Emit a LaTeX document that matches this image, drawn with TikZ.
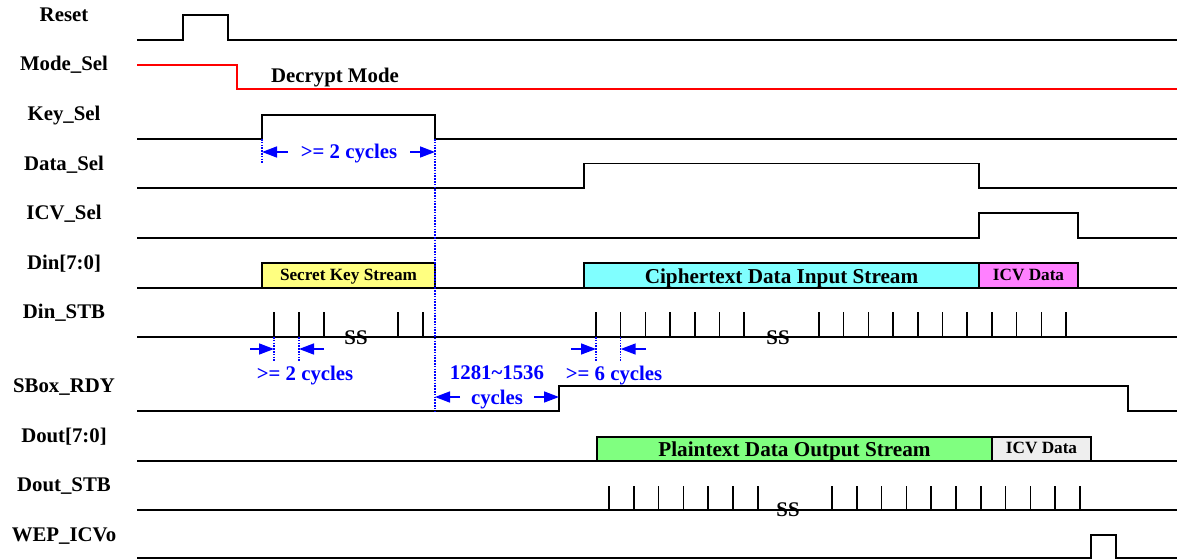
\documentclass[tikz,border=0pt]{standalone}
\usepackage{fontspec}
\setmainfont{Liberation Serif}
\usetikzlibrary{arrows.meta}
\definecolor{keyfill}{RGB}{255,255,128}
\definecolor{cipherfill}{RGB}{128,255,255}
\definecolor{icvfill}{RGB}{255,128,255}
\definecolor{plainfill}{RGB}{128,255,128}
\definecolor{icvofill}{RGB}{238,238,238}
\begin{document}
\begin{tikzpicture}[x=1pt,y=-1pt,
  lab/.style={font=\fontsize{20.8}{24}\selectfont\bfseries, inner sep=0pt, anchor=base},
  biglab/.style={font=\fontsize{21.2}{24}\selectfont\bfseries, inner sep=0pt, anchor=base},
  smalllab/.style={font=\fontsize{17.2}{20}\selectfont\bfseries, inner sep=0pt, anchor=base},
  note/.style={lab, text=blue},
  sig/.style={line width=1.6pt, line join=miter, line cap=rect},
  busbox/.style={line width=2pt, draw=black},
  tick/.style={line width=1.5pt},
  dimarrow/.style={blue, line width=1.5pt, -{Triangle[length=15pt,width=11pt]}},
  guide/.style={blue, line width=1.4pt, dash pattern=on 1.6pt off 1.2pt},
]
\useasboundingbox (0,0) rectangle (1177,559);

% ---- labels ----
\node[lab] (lReset)   at (64,21.5)  {Reset};
\node[lab] (lMode)    at (64,71)    {Mode\_Sel};
\node[lab] (lKey)     at (64,120.5) {Key\_Sel};
\node[lab] (lData)    at (64,170)   {Data\_Sel};
\node[lab] (lICV)     at (64,219.5) {ICV\_Sel};
\node[lab] (lDin)     at (64,269.5) {Din[7:0]};
\node[lab] (lDinSTB)  at (64,318.5) {Din\_STB};
\node[lab] (lSBox)    at (64,392.5) {SBox\_RDY};
\node[lab] (lDout)    at (64,442)   {Dout[7:0]};
\node[lab] (lDoutSTB) at (64,491.5) {Dout\_STB};
\node[lab] (lWEP)     at (64,541)   {WEP\_ICVo};

% ---- Reset ----
\draw[sig] (138,40) -- (183,40) -- (183,15) -- (228,15) -- (228,40) -- (1177,40);
% ---- Mode_Sel ----
\draw[sig,red] (138,65) -- (237,65) -- (237,89) -- (1177,89);
\node[lab] (tDecrypt) at (335,82.5) {Decrypt Mode};
% ---- Key_Sel ----
\draw[sig] (138,139) -- (262,139) -- (262,115) -- (435,115) -- (435,139) -- (1177,139);
% ---- Data_Sel ----
\draw[sig] (138,188) -- (584,188) -- (584,163.5) -- (979,163.5) -- (979,188) -- (1177,188);
% ---- ICV_Sel ----
\draw[sig] (138,238) -- (979,238) -- (979,213) -- (1078,213) -- (1078,238) -- (1177,238);
% ---- Din[7:0] ----
\draw[sig] (138,288) -- (1177,288);
\filldraw[busbox, fill=keyfill] (262,288) rectangle (435,263);
\filldraw[busbox, fill=cipherfill] (584,288) rectangle (979,263);
\filldraw[busbox, fill=icvfill] (979,288) rectangle (1078,263);
\node[smalllab] (tKey) at (348.5,280.5) {Secret Key Stream};
\node[biglab] (tCipher) at (781.5,283) {Ciphertext Data Input Stream};
\node[smalllab] (tICVin) at (1028.5,280.5) {ICV Data};
% ---- Din_STB ----
\draw[sig] (138,337) -- (1177,337);
\foreach \x in {274,299,324,398,423} \draw[tick] (\x,337) -- (\x,312);
\foreach \k in {0,...,6} \draw[tick] ({596+24.7*\k},337) -- ({596+24.7*\k},312);
\foreach \k in {0,...,10} \draw[tick] ({819+24.7*\k},337) -- ({819+24.7*\k},312);
\node[lab] (ss1) at (356,344) {SS};
\node[lab] (ss2) at (778,344) {SS};
% ---- SBox_RDY ----
\draw[sig] (138,411) -- (559,411) -- (559,386) -- (1128,386) -- (1128,411) -- (1177,411);
% ---- Dout[7:0] ----
\draw[sig] (138,461) -- (1177,461);
\filldraw[busbox, fill=plainfill] (597,461) rectangle (992,437);
\filldraw[busbox, fill=icvofill] (992,461) rectangle (1091,437);
\node[biglab] (tPlain) at (794.5,456) {Plaintext Data Output Stream};
\node[smalllab] (tICVout) at (1041.5,453.5) {ICV Data};
% ---- Dout_STB ----
\draw[sig] (138,510) -- (1177,510);
\foreach \k in {0,...,6} \draw[tick] ({609+24.8*\k},510) -- ({609+24.8*\k},486);
\foreach \k in {0,...,10} \draw[tick] ({832+24.8*\k},510) -- ({832+24.8*\k},486);
\node[lab] (ss3) at (788,516.5) {SS};
% ---- WEP_ICVo ----
\draw[sig] (138,558) -- (1091,558) -- (1091,535) -- (1116,535) -- (1116,558) -- (1177,558);

% ---- timing annotations ----
\coordinate (gA1) at (262,139); \coordinate (gA2) at (262,164);
\coordinate (gB1) at (435,139); \coordinate (gB2) at (435,411);
\draw[guide] (gA1) -- (gA2);
\draw[guide] (gB1) -- (gB2);
\coordinate (a1t) at (288,152); \coordinate (a1h) at (262,152);
\coordinate (a2t) at (410,152); \coordinate (a2h) at (435,152);
\draw[dimarrow] (a1t) -- (a1h);
\draw[dimarrow] (a2t) -- (a2h);
\node[note] (tKeyCyc) at (349,158) {>= 2 cycles};

\coordinate (gC1) at (274,337); \coordinate (gC2) at (274,361);
\coordinate (gD1) at (299,337); \coordinate (gD2) at (299,361);
\draw[guide] (gC1) -- (gC2);
\draw[guide] (gD1) -- (gD2);
\coordinate (b1t) at (250,349); \coordinate (b1h) at (274,349);
\coordinate (b2t) at (324,349); \coordinate (b2h) at (299,349);
\draw[dimarrow] (b1t) -- (b1h);
\draw[dimarrow] (b2t) -- (b2h);
\node[note] (tStbCyc) at (305,380) {>= 2 cycles};

\coordinate (gE1) at (596,337); \coordinate (gE2) at (596,361);
\coordinate (gF1) at (620.7,337); \coordinate (gF2) at (620.7,361);
\draw[guide] (gE1) -- (gE2);
\draw[guide] (gF1) -- (gF2);
\coordinate (c1t) at (571,349); \coordinate (c1h) at (596,349);
\coordinate (c2t) at (646,349); \coordinate (c2h) at (620.7,349);
\draw[dimarrow] (c1t) -- (c1h);
\draw[dimarrow] (c2t) -- (c2h);
\node[note] (tSixCyc) at (614,380) {>= 6 cycles};

\coordinate (d1t) at (460,397); \coordinate (d1h) at (435,397);
\coordinate (d2t) at (534,397); \coordinate (d2h) at (559,397);
\draw[dimarrow] (d1t) -- (d1h);
\draw[dimarrow] (d2t) -- (d2h);
\node[note] (tRange) at (497,379.5) {1281\textasciitilde 1536};
\node[note] (tRangeCyc) at (497,404) {cycles};
\end{tikzpicture}
\end{document}
